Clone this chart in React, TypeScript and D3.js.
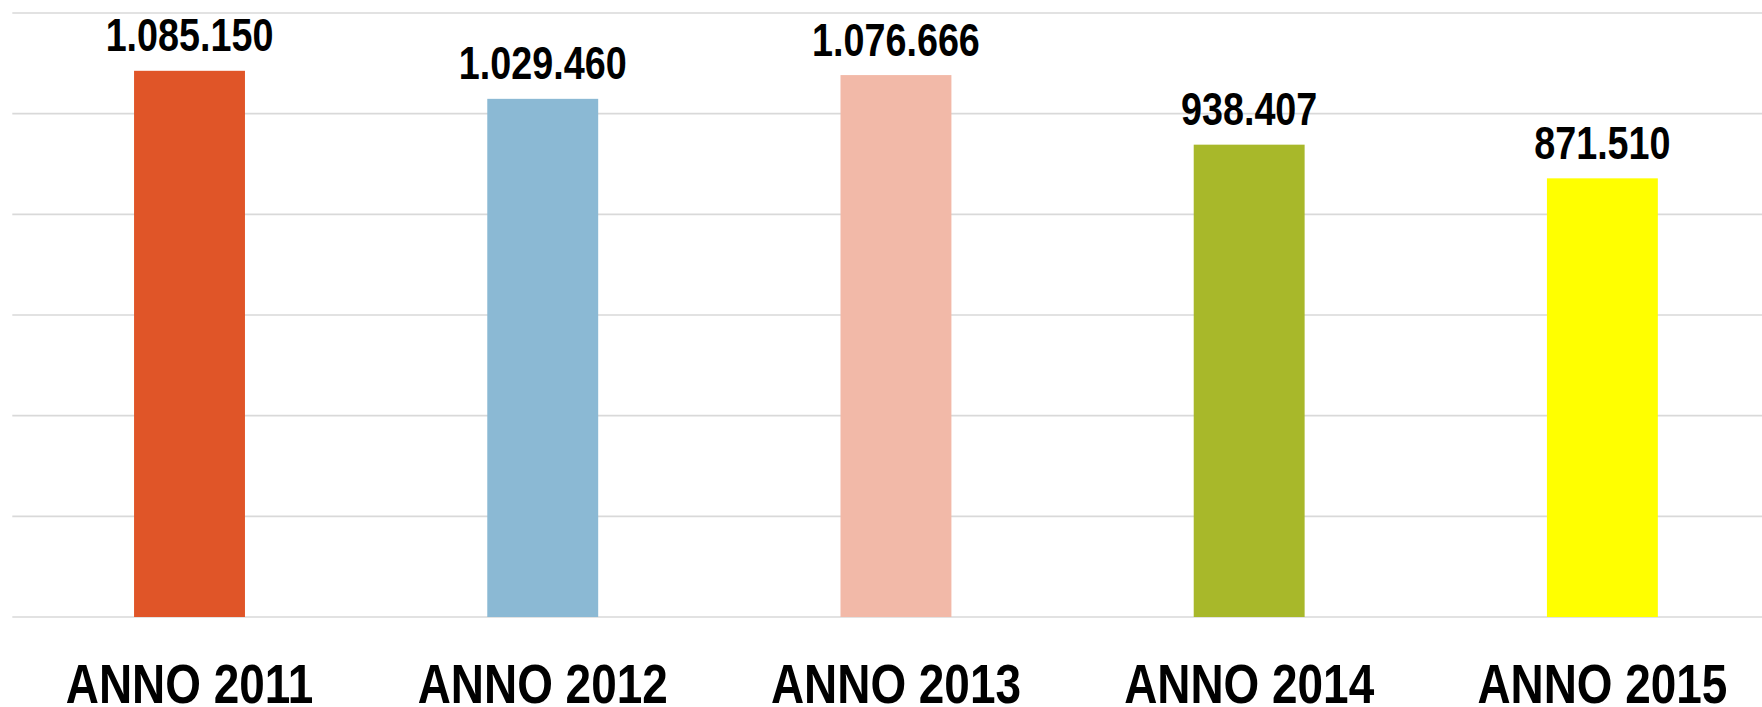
import React from "react";
import * as d3 from "d3";

const categories: string[] = ["ANNO 2011", "ANNO 2012", "ANNO 2013", "ANNO 2014", "ANNO 2015"];
const values: number[] = [1085150, 1029460, 1076666, 938407, 871510];
const valueLabels: string[] = ["1.085.150", "1.029.460", "1.076.666", "938.407", "871.510"];
const barColors: string[] = ["#E05528", "#8BB9D4", "#F2B9A8", "#A8B82A", "#FFFF00"];
const gridTicks: number[] = [0, 200000, 400000, 600000, 800000, 1000000, 1200000];

const W = 1762;
const H = 707;
const FONT = "'Liberation Sans', Arial, sans-serif";
const NARROW = 0.82;

export default function App() {
  const x = d3.scaleBand<string>().domain(categories).range([12.9, 1779]).paddingInner(0.686).paddingOuter(0.343);
  const y = d3.scaleLinear().domain([0, 1200000]).range([617, 13]);

  return (
    <svg
      width={W}
      height={H}
      viewBox={`0 0 ${W} ${H}`}
      style={{ position: "absolute", left: 0, top: 0, background: "#fff" }}
    >
      {gridTicks.map((t) => (
        <line key={t} x1={12.3} x2={W} y1={y(t)} y2={y(t)} stroke="#D9D9D9" strokeWidth={1.6} />
      ))}
      {categories.map((c, i) => (
        <rect
          key={c}
          x={x(c)!}
          y={y(values[i])}
          width={x.bandwidth()}
          height={y(0) - y(values[i])}
          fill={barColors[i]}
        />
      ))}
      {categories.map((c, i) => (
        <text
          key={"v" + c}
          transform={`translate(${x(c)! + x.bandwidth() / 2},${y(values[i]) - 19.5}) scale(${NARROW},1)`}
          textAnchor="middle"
          fontFamily={FONT}
          fontWeight="bold"
          fontSize={46}
          fill="#000"
        >
          {valueLabels[i]}
        </text>
      ))}
      {categories.map((c) => (
        <text
          key={"c" + c}
          transform={`translate(${x(c)! + x.bandwidth() / 2},703) scale(${NARROW},1)`}
          textAnchor="middle"
          fontFamily={FONT}
          fontWeight="bold"
          fontSize={56}
          fill="#000"
        >
          {c}
        </text>
      ))}
    </svg>
  );
}
